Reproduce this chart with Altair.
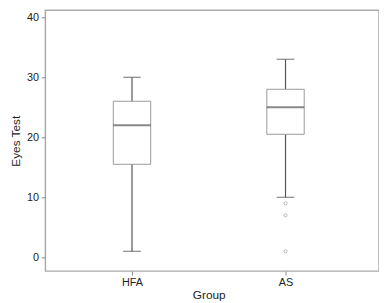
import altair as alt
import pandas as pd

groups = ["HFA", "AS"]
whisker_low = [1, 10]
q1 = [15.5, 20.5]
median = [22, 25]
q3 = [26, 28]
whisker_high = [30, 33]
outlier_group = ["AS", "AS", "AS"]
outlier_value = [9, 7, 1]

stats = pd.DataFrame({
    "Group": groups, "lo": whisker_low, "q1": q1, "med": median,
    "q3": q3, "hi": whisker_high,
})
outliers = pd.DataFrame({"Group": outlier_group, "v": outlier_value})

FONT = "Liberation Sans"
xscale = alt.Scale(type="point", padding=0, range=[88, 244])
xenc = alt.X("Group:N", sort=groups, title="Group", scale=xscale,
             axis=alt.Axis(labelAngle=0, domain=False, tickColor="#888",
                           tickSize=4, labelPadding=2, titlePadding=2))
yscale = alt.Scale(domain=[-2.3, 41.15], nice=False, zero=False)
yaxis = alt.Axis(values=[0, 10, 20, 30, 40], title="Eyes Test", grid=False,
                 domain=False, tickColor="#888", tickSize=4, labelPadding=3,
                 titlePadding=4)

base = alt.Chart(stats)
whisk = base.mark_rule(color="#555", strokeWidth=1.2).encode(
    x=xenc, y=alt.Y("lo:Q", scale=yscale, axis=yaxis), y2="hi:Q")
box = base.mark_bar(size=38, fill="white", stroke="#999", strokeWidth=1).encode(
    x=xenc, y=alt.Y("q1:Q", scale=yscale), y2="q3:Q")
med = base.mark_tick(size=38, thickness=2, color="#555").encode(
    x=xenc, y=alt.Y("med:Q", scale=yscale))
caplo = base.mark_tick(size=18, thickness=1.2, color="#555").encode(
    x=xenc, y=alt.Y("lo:Q", scale=yscale))
caphi = base.mark_tick(size=18, thickness=1.2, color="#555").encode(
    x=xenc, y=alt.Y("hi:Q", scale=yscale))
pts = alt.Chart(outliers).mark_point(size=10, color="#999", strokeWidth=1,
                                     filled=False).encode(
    x=alt.X("Group:N", sort=groups, scale=xscale),
    y=alt.Y("v:Q", scale=yscale))

chart = alt.layer(whisk, box, med, caplo, caphi, pts).properties(
    width=339, height=265,
    autosize=alt.AutoSizeParams(type="none"),
    padding={"left": 38, "top": 0, "right": 0, "bottom": 30},
).configure_view(stroke="#aaa", strokeWidth=1.5).configure_axis(
    labelFont=FONT, titleFont=FONT, labelFontSize=11, titleFontSize=12,
    labelColor="#222", titleColor="#222", titleFontWeight="normal",
)

chart.save("out.html", embed_options={"renderer": "svg", "actions": False})
